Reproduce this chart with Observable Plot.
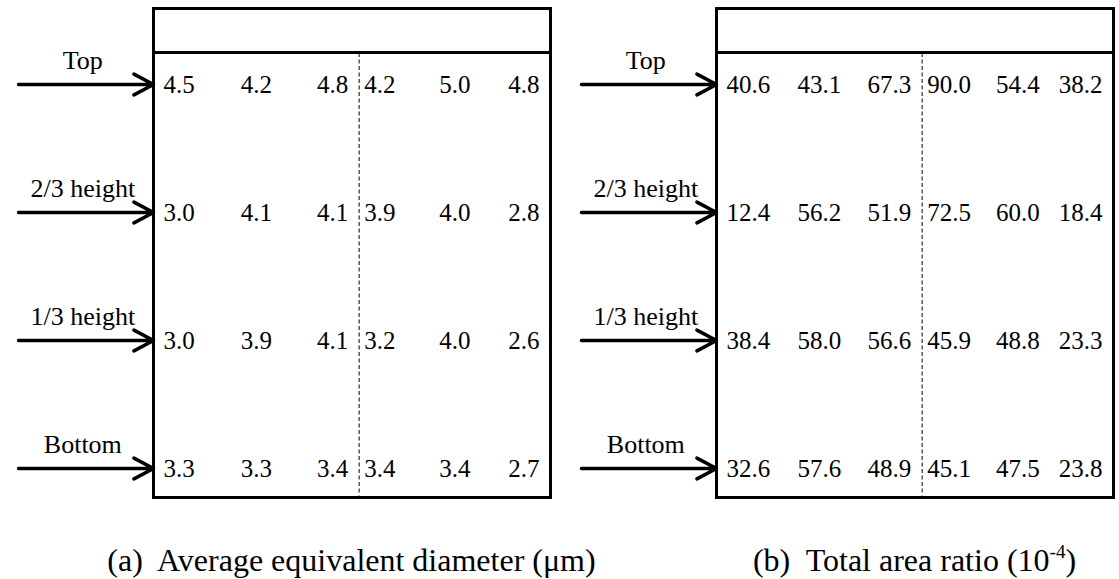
<!DOCTYPE html>
<html>
<head>
<meta charset="utf-8">
<script src="https://cdn.jsdelivr.net/npm/d3@7"></script>
<script src="https://cdn.jsdelivr.net/npm/@observablehq/plot@0.6"></script>
<style>
  html, body { margin: 0; padding: 0; background: #fff; }
  #wrap { position: relative; width: 1119px; height: 579px; font-family: "Liberation Serif", "Times New Roman", serif; }
  .cap { position: absolute; top: 543px; font-size: 32px; white-space: pre; color: #000; transform: translateX(-50%); line-height: 34px; font-family: "Liberation Serif", "Times New Roman", serif; }
  .cap sup { font-size: 19px; vertical-align: 0; position: relative; top: -13px; }
</style>
</head>
<body>
<div id="wrap"></div>
<script>
// ---- data ----
const panels = ["a", "b"];
const rows = ["Top", "2/3 height", "1/3 height", "Bottom"];
const captions = ["(a)  Average equivalent diameter (\u03bcm)", "(b)  Total area ratio (10<sup>-4</sup>)"];
// (a) Average equivalent diameter (µm), one array per row, six columns
const diamTop    = [4.5, 4.2, 4.8, 4.2, 5.0, 4.8];
const diam23     = [3.0, 4.1, 4.1, 3.9, 4.0, 2.8];
const diam13     = [3.0, 3.9, 4.1, 3.2, 4.0, 2.6];
const diamBottom = [3.3, 3.3, 3.4, 3.4, 3.4, 2.7];
// (b) Total area ratio (10^-4)
const areaTop    = [40.6, 43.1, 67.3, 90.0, 54.4, 38.2];
const area23     = [12.4, 56.2, 51.9, 72.5, 60.0, 18.4];
const area13     = [38.4, 58.0, 56.6, 45.9, 48.8, 23.3];
const areaBottom = [32.6, 57.6, 48.9, 45.1, 47.5, 23.8];

const panelRows = {
  a: [diamTop, diam23, diam13, diamBottom],
  b: [areaTop, area23, area13, areaBottom]
};

// ---- table built from the arrays ----
const cells = [];
for (const p of panels) {
  panelRows[p].forEach((vals, r) => {
    vals.forEach((v, c) => cells.push({panel: p, row: rows[r], col: c, value: v}));
  });
}
const labels = [];
for (const p of panels) for (const r of rows) labels.push({panel: p, row: r});

// ---- layout (x domain = percent of box width; dashed divider between the two halves) ----
const SPLIT = 51.8;
const halfStart = (c) => (c < 3 ? 0 : SPLIT);
const halfEnd = (c) => (c < 3 ? SPLIT : 100);
const fmt = (d) => d.value.toFixed(1);
const serif = '"Liberation Serif", "Times New Roman", serif';
const numStyle = {fontSize: 25, fontFamily: serif, fill: "black"};

const plot = Plot.plot({
  width: 1119,
  height: 506,
  marginTop: 8,
  marginBottom: 9,
  marginLeft: 152,
  marginRight: 5,
  style: {fontFamily: serif, background: "white", color: "black"},
  fx: {domain: panels, paddingInner: 0.2943, paddingOuter: 0, axis: null},
  x: {domain: [0, 100], axis: null},
  y: {type: "point", domain: rows, insetTop: 47, padding: 0.22, axis: null},
  marks: [
    Plot.frame({stroke: "black", strokeWidth: 3}),
    Plot.frame({stroke: "black", strokeWidth: 3, insetBottom: 445}),
    Plot.ruleX([SPLIT], {stroke: "black", strokeWidth: 1, strokeDasharray: "4,2.5", insetTop: 45, insetBottom: 1.5}),
    // numbers, justified within each half: left / centre / right
    Plot.text(cells.filter(d => d.col === 0), {fx: "panel", x: d => halfStart(d.col), y: "row", text: fmt, textAnchor: "start", dx: 10, ...numStyle}),
    Plot.text(cells.filter(d => d.col === 3), {fx: "panel", x: d => halfStart(d.col), y: "row", text: fmt, textAnchor: "start", dx: 5, ...numStyle}),
    Plot.text(cells.filter(d => d.col % 3 === 1), {fx: "panel", x: d => (halfStart(d.col) + halfEnd(d.col)) / 2, y: "row", text: fmt, textAnchor: "middle", ...numStyle}),
    Plot.text(cells.filter(d => d.col % 3 === 2), {fx: "panel", x: d => halfEnd(d.col), y: "row", text: fmt, textAnchor: "end", dx: -11, ...numStyle}),
    // arrows pointing into the box and their labels
    Plot.arrow(labels, {fx: "panel", x1: () => -34, x2: () => 0, y1: "row", y2: "row", stroke: "black", strokeWidth: 3.5, headAngle: 56, headLength: 9.5}),
    Plot.text(labels, {fx: "panel", x: () => -17.8, y: "row", text: "row", lineAnchor: "bottom", dy: -16, fontSize: 26, fontFamily: serif, fill: "black"})
  ]
});

const wrap = document.getElementById("wrap");
wrap.appendChild(plot);
const fx = plot.scale("fx");
const boxW = fx.bandwidth;
panels.forEach((p, i) => {
  const s = document.createElement("span");
  s.className = "cap";
  s.innerHTML = captions[i];
  s.style.left = (fx.apply(p) + boxW / 2) + "px";
  wrap.appendChild(s);
});
</script>
</body>
</html>
